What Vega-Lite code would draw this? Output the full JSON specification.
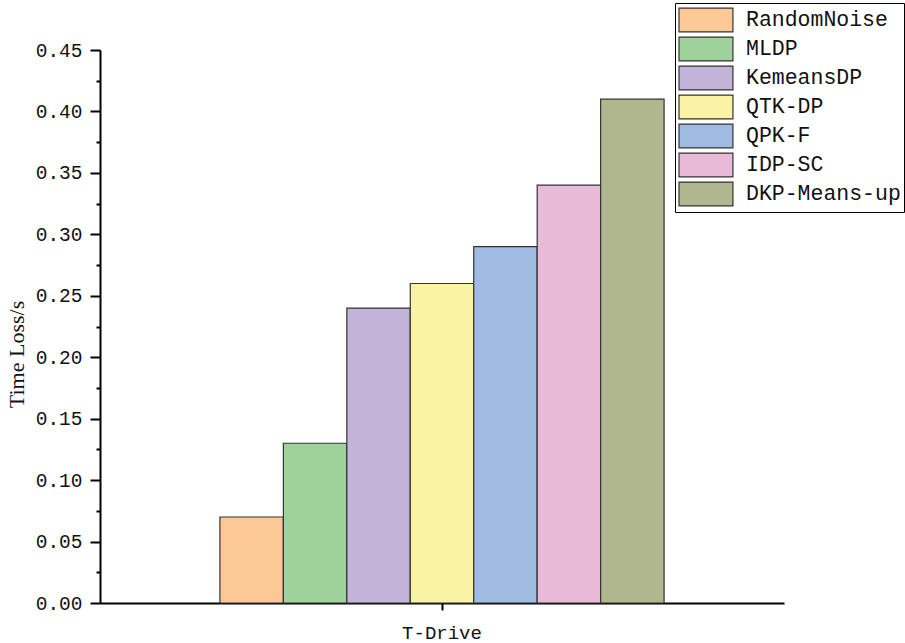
{
  "$schema": "https://vega.github.io/schema/vega-lite/v6.json",
  "width": 684,
  "height": 553,
  "autosize": {"type": "none"},
  "padding": {"left": 100, "top": 50, "right": 121, "bottom": 40},
  "background": "white",
  "config": {"view": {"stroke": null}},
  "data": {"values": [
    {"dataset": "T-Drive", "method": "RandomNoise", "value": 0.07},
    {"dataset": "T-Drive", "method": "MLDP", "value": 0.13},
    {"dataset": "T-Drive", "method": "KemeansDP", "value": 0.24},
    {"dataset": "T-Drive", "method": "QTK-DP", "value": 0.26},
    {"dataset": "T-Drive", "method": "QPK-F", "value": 0.29},
    {"dataset": "T-Drive", "method": "IDP-SC", "value": 0.34},
    {"dataset": "T-Drive", "method": "DKP-Means-up", "value": 0.41}
  ]},
  "resolve": {"axis": {"y": "independent"}},
  "layer": [
    {
      "mark": {"type": "bar", "stroke": "#333333", "strokeWidth": 1.2},
      "encoding": {
        "x": {"field": "dataset", "type": "nominal",
          "scale": {"paddingOuter": 0.27, "paddingInner": 0},
          "axis": {"title": null, "labelAngle": 0, "labelFont": "Liberation Mono", "labelFontSize": 19, "labelColor": "#111", "labelPadding": 13,
            "domainColor": "black", "domainWidth": 2, "tickColor": "black", "tickWidth": 2, "tickSize": 7}},
        "xOffset": {"field": "method", "type": "nominal",
          "sort": ["RandomNoise", "MLDP", "KemeansDP", "QTK-DP", "QPK-F", "IDP-SC", "DKP-Means-up"],
          "scale": {"paddingInner": 0, "paddingOuter": 0}},
        "y": {"field": "value", "type": "quantitative",
          "scale": {"domain": [0, 0.45], "nice": false},
          "axis": {"orient": "left", "title": "Time Loss/s", "titleFont": "Liberation Serif", "titleFontSize": 22, "titleFontWeight": "normal", "titleColor": "#111",
            "titleX": -84, "titleY": 304, "titleAngle": -90, "titleAlign": "center", "titleBaseline": "middle",
            "values": [0, 0.05, 0.1, 0.15, 0.2, 0.25, 0.3, 0.35, 0.4, 0.45], "format": ".2f",
            "labelFont": "Liberation Mono", "labelFontSize": 19.5, "labelColor": "#111", "labelPadding": 8,
            "grid": false, "domainColor": "black", "domainWidth": 2, "tickColor": "black", "tickWidth": 2, "tickSize": 10}},
        "color": {"field": "method", "type": "nominal",
          "sort": ["RandomNoise", "MLDP", "KemeansDP", "QTK-DP", "QPK-F", "IDP-SC", "DKP-Means-up"],
          "scale": {"range": ["#FCC895", "#9FD29A", "#C3B3D8", "#FAF3A4", "#9FBBE2", "#E8BAD8", "#B0B68D"]},
          "legend": {"title": null, "orient": "none", "legendX": 575, "legendY": -47,
            "strokeColor": "black", "fillColor": "white", "padding": 3,
            "symbolType": "M-1,-0.92H3.15V0.92H-1Z", "symbolSize": 676, "symbolStrokeColor": "#333333", "symbolStrokeWidth": 1.2, "symbolOpacity": 1,
            "labelFont": "Liberation Mono", "labelFontSize": 21.5, "labelColor": "#111", "labelOffset": 40, "rowPadding": -2}}
      }
    },
    {
      "mark": {"type": "point", "opacity": 0},
      "encoding": {
        "y": {"field": "value", "type": "quantitative",
          "axis": {"orient": "left", "title": null, "labels": false, "domain": false, "grid": false,
            "values": [0.025, 0.075, 0.125, 0.175, 0.225, 0.275, 0.325, 0.375, 0.425],
            "tickColor": "black", "tickWidth": 2, "tickSize": 4}}
      }
    }
  ]
}
